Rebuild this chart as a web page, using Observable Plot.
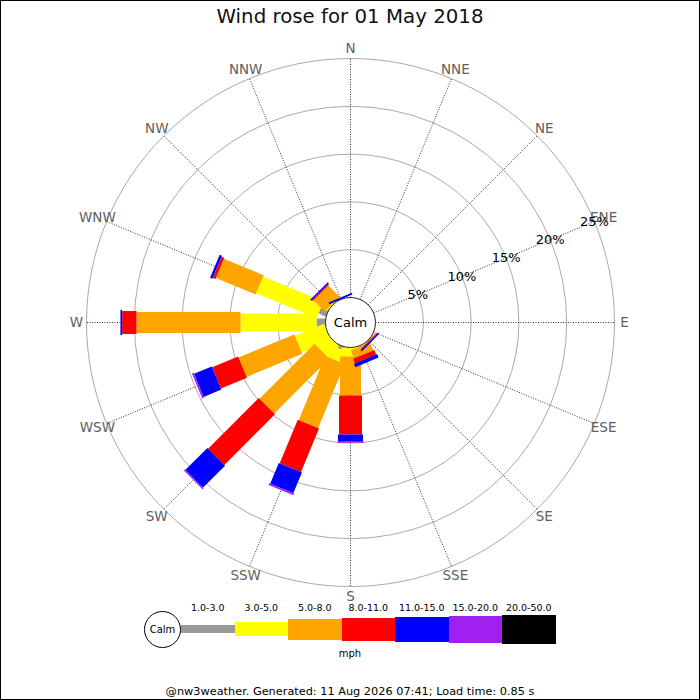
<!DOCTYPE html>
<html><head><meta charset="utf-8">
<script src="https://cdn.jsdelivr.net/npm/d3@7"></script>
<script src="https://cdn.jsdelivr.net/npm/@observablehq/plot@0.6"></script>
<style>
body{margin:0;background:#fff;font-family:"DejaVu Sans",sans-serif;}
#page{position:relative;width:700px;height:700px;overflow:hidden;background:#fff;}
#frame{position:absolute;left:0;top:0;width:700px;height:700px;box-sizing:border-box;border:1px solid #000;pointer-events:none;}
#title{position:absolute;left:0;top:0;width:700px;height:34px;line-height:34px;text-align:center;font-size:19.8px;color:#111;}
#rose{position:absolute;left:0;top:35px;width:700px;height:566px;}
#legend{position:absolute;left:0;top:601px;width:700px;height:70px;}
#legend div{position:absolute;box-sizing:border-box;}
#footer{position:absolute;left:0;top:684px;width:700px;height:15px;line-height:15px;text-align:center;font-size:11.3px;color:#000;}
</style></head>
<body>
<div id="page">
  <div id="title">Wind rose for 01 May 2018</div>
  <div id="rose"></div>
  <div id="legend"></div>
  <div id="footer">@nw3weather. Generated: 11 Aug 2026 07:41; Load time: 0.85 s</div>
  <div id="frame"></div>
</div>
<script>
// ---- data ----
const directions = ["N","NNE","NE","ENE","E","ESE","SE","SSE","S","SSW","SW","WSW","W","WNW","NW","NNW"];
const speedClasses = ["1.0-3.0","3.0-5.0","5.0-8.0","8.0-11.0","11.0-15.0","15.0-20.0","20.0-50.0"];
const classColors = ["#999999","#ffff00","#ffa500","#ff0000","#0000ff","#a020f0","#000000"];
// frequency (%) per direction, one array per speed class (direction order as above)
const freq1to3   = [0,0,0,0,0,0,0,   0,   0,   0.35,0,   0,   0.94, 0.84,0,   0  ];
const freq3to5   = [0,0,0,0,0,0,0,   0.1, 0.94,1.27,1.62,3.3, 7.95, 6.83,0.1, 0  ];
const freq5to8   = [0,0,0,0,0,0,0.1, 0.9, 4.08,7.28,8.14,6.31,10.88,4.5, 1.65,0  ];
const freq8to11  = [0,0,0,0,0,0,0.1, 0.5, 4.08,4.93,7.49,2.94,1.5,  0.31,0.15,0  ];
const freq11to15 = [0,0,0,0,0,0,0.15,0.4, 0.76,2.35,3.28,2.01,0.18, 0.26,0.15,0.2];
const freq15to20 = [0,0,0,0,0,0,0,   0,   0.1, 0.19,0.13,0.19,0,    0,   0,   0  ];
const freq20to50 = [0,0,0,0,0,0,0,   0,   0,   0,   0,   0,   0,    0,   0,   0  ];
const ringPercents = [5,10,15,20,25];
const calmLabel = "Calm";
const unitLabel = "mph";

// ---- styling / geometry ----
const classFreq = [freq1to3,freq3to5,freq5to8,freq8to11,freq11to15,freq15to20,freq20to50];
const roseWidths = [8,18,21,23,25,27,29];
const legendHeights = [8,14,21,23,25,27,29];
const k = 9.56;            // px per percent
const calmR = 25;          // px
const c = calmR / k;       // calm offset in percent units
const W = 700, H = 566, cy = 287;
const labelR = 274 / k;
const ang = i => i * Math.PI / 8;
const px = (r, i) => r * Math.sin(ang(i));
const py = (r, i) => r * Math.cos(ang(i));
const maxR = c + ringPercents[ringPercents.length - 1];

const segs = [];
directions.forEach((d, i) => {
  let cum = 0;
  classFreq.forEach((arr, j) => {
    const v = arr[i];
    if (v > 0) { segs.push({i, j, r0: c + cum, r1: c + cum + v}); cum += v; }
  });
});
segs.sort((a, b) => a.j - b.j);

const labelAngleIdx = 3; // ENE spoke carries the percent labels

const rose = Plot.plot({
  width: W, height: H,
  margin: 0,
  x: {domain: [-(W/2)/k, (W/2)/k], range: [0, W], axis: null},
  y: {domain: [-(H-cy)/k, cy/k], range: [H, 0], axis: null},
  r: {type: "identity"},
  style: {fontFamily: "DejaVu Sans, sans-serif", background: "transparent", overflow: "visible"},
  marks: [
    Plot.dot(ringPercents, {x: () => 0, y: () => 0, r: p => (c + p) * k, stroke: "#aaaaaa", fill: "none", strokeWidth: 1}),
    Plot.link(directions, {
      x1: (d, i) => px(c, i), y1: (d, i) => py(c, i),
      x2: (d, i) => px(maxR, i), y2: (d, i) => py(maxR, i),
      stroke: "#333", strokeWidth: 1, strokeDasharray: "1,1.5"
    }),
    Plot.link(segs, {
      x1: d => px(d.r0, d.i), y1: d => py(d.r0, d.i),
      x2: d => px(d.r1, d.i), y2: d => py(d.r1, d.i),
      stroke: d => classColors[d.j], strokeWidth: d => roseWidths[d.j], strokeLinecap: "butt"
    }),
    Plot.dot([calmLabel], {x: () => 0, y: () => 0, r: () => calmR, fill: "#fff", stroke: "#222", strokeWidth: 1}),
    Plot.text([calmLabel], {x: () => 0, y: () => 0, text: d => d, fontSize: 13, fill: "#000"}),
    Plot.text(directions, {x: (d, i) => px(labelR, i), y: (d, i) => py(labelR, i), text: d => d, fontSize: 13.5, fill: "#606060"}),
    Plot.text(ringPercents, {x: p => px(c + p, labelAngleIdx), y: p => py(c + p, labelAngleIdx), text: p => p + "%", fontSize: 13, fill: "#000"})
  ]
});
document.getElementById("rose").appendChild(rose);

// ---- legend (HTML) ----
const leg = document.getElementById("legend");
const legLeft = 181, legStep = 53.5, legMid = 28;
const calmDiv = document.createElement("div");
Object.assign(calmDiv.style, {left: (legLeft - 37) + "px", top: (legMid - 18) + "px", width: "37px", height: "37px",
  border: "1px solid #000", borderRadius: "50%", background: "#fff", fontSize: "10px", lineHeight: "35px", textAlign: "center", zIndex: 2});
calmDiv.textContent = calmLabel;
leg.appendChild(calmDiv);
speedClasses.forEach((s, j) => {
  const b = document.createElement("div");
  Object.assign(b.style, {left: (legLeft + j * legStep) + "px", width: (legStep + 0.5) + "px",
    top: (legMid - legendHeights[j] / 2) + "px", height: legendHeights[j] + "px", background: classColors[j]});
  leg.appendChild(b);
  const t = document.createElement("div");
  Object.assign(t.style, {left: (legLeft + j * legStep) + "px", width: legStep + "px", top: "0px", height: "14px",
    lineHeight: "14px", textAlign: "center", fontSize: "9.5px", color: "#000", whiteSpace: "nowrap"});
  t.textContent = s;
  leg.appendChild(t);
});
const u = document.createElement("div");
Object.assign(u.style, {left: "0px", width: "700px", top: "46px", height: "14px", lineHeight: "14px", textAlign: "center", fontSize: "10px", color: "#000"});
u.textContent = unitLabel;
leg.appendChild(u);
</script>
</body></html>
